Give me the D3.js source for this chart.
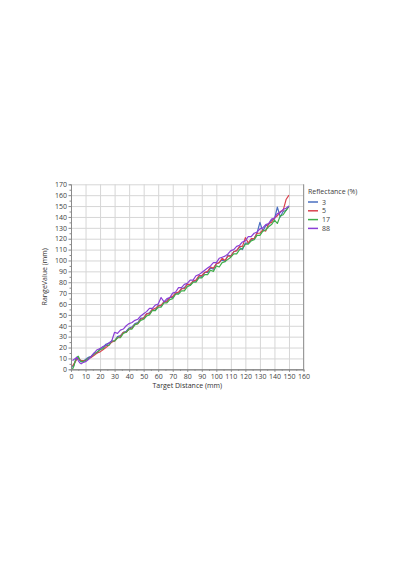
<!DOCTYPE html>
<html lang="en">
	<head>
		<meta charset="utf-8">
		<title>RangeValue vs Target Distance</title>
		<script type="text/javascript" src="https://cdn.jsdelivr.net/npm/d3@7"></script>
		<style type="text/css">
			body { margin: 0; background: #fff; }
			text { font-family: "Open Sans", sans-serif; }
			.grid line { stroke: #d6d6d6; stroke-width: 1; }
			.grid path { display: none; }
			.axis path, .axis line { stroke: #8a8a8a; }
			.axis text { fill: #404040; font-size: 7px; }
		</style>
	</head>
	<body>
		<script type="text/javascript">

			//Target distances (mm)
			var xs = [1, 2, 3, 4, 5, 6, 7, 8,
				10, 12, 14, 16, 18, 20, 22, 24, 26, 28,
				30, 32, 34, 36, 38, 40, 42, 44, 46, 48,
				50, 52, 54, 56, 58, 60, 62, 64, 66, 68,
				70, 72, 74, 76, 78, 80, 82, 84, 86, 88,
				90, 92, 94, 96, 98, 100, 102, 104, 106, 108,
				110, 112, 114, 116, 118, 120, 122, 124, 126, 128,
				130, 132, 134, 136, 138, 140, 142, 144, 146, 148,
				150];

			//Measured range values per reflectance
			var r3 = [2, 4, 8, 10, 11, 8, 7, 7,
				9, 11, 12, 15, 15, 19, 20, 23, 24, 26,
				26, 30, 31, 34, 35, 38, 39, 42, 43, 47,
				47, 51, 52, 55, 54, 59, 58, 62, 63, 66,
				66, 70, 70, 74, 75, 78, 77, 81, 81, 85,
				85, 89, 89, 93, 92, 97, 98, 101, 99, 105,
				104, 108, 109, 112, 110, 116, 116, 119, 120, 125,
				135, 127, 132, 133, 137, 138, 149, 140, 145, 146,
				150];

			var r5 = [3, 5, 7, 9, 10, 9, 8, 8,
				8, 10, 11, 13, 15, 16, 18, 20, 22, 25,
				26, 29, 30, 34, 34, 37, 38, 41, 42, 46,
				47, 51, 51, 55, 56, 58, 59, 62, 62, 66,
				67, 70, 71, 74, 74, 78, 78, 81, 82, 86,
				86, 89, 90, 94, 93, 97, 98, 102, 100, 104,
				104, 108, 109, 113, 113, 121, 116, 120, 120, 125,
				125, 128, 127, 134, 135, 139, 141, 145, 146, 156,
				160];

			var r17 = [0, 3, 8, 11, 12, 9, 7, 7,
				8, 10, 12, 14, 16, 18, 19, 22, 22, 26,
				26, 29, 29, 33, 34, 37, 37, 41, 42, 45,
				46, 49, 50, 54, 54, 57, 57, 61, 61, 64,
				65, 69, 69, 72, 72, 76, 77, 80, 80, 84,
				84, 87, 87, 91, 90, 95, 94, 98, 99, 101,
				103, 106, 106, 110, 111, 115, 115, 118, 119, 123,
				123, 127, 128, 131, 133, 137, 134, 141, 142, 146,
				150];

			var r88 = [8, 9, 10, 11, 8, 6, 5, 6,
				7, 9, 12, 15, 18, 19, 21, 22, 24, 26,
				34, 33, 36, 37, 40, 42, 43, 45, 46, 49,
				51, 53, 56, 56, 59, 60, 66, 62, 65, 66,
				70, 71, 75, 75, 78, 79, 82, 82, 86, 87,
				89, 91, 93, 95, 98, 98, 102, 103, 104, 106,
				109, 110, 113, 114, 117, 118, 122, 122, 125, 126,
				129, 130, 133, 134, 138, 139, 143, 144, 147, 148,
				150];

			var seriesNames = ["3", "5", "17", "88"];
			var seriesValues = [r3, r5, r17, r88];
			var colors = ["#4a6fc0", "#d9424e", "#3fae4a", "#8b3fd6"];

			var xTicks = d3.range(0, 161, 10);
			var yTicks = d3.range(0, 171, 10);

			//Width and height
			var w = 400;
			var h = 570;
			var plotLeft = 71, plotRight = 303.5, plotTop = 184.3, plotBottom = 369.3;

			var xScale = d3.scaleLinear().domain([0, 160]).range([plotLeft, plotRight]);
			var yScale = d3.scaleLinear().domain([0, 170]).range([plotBottom, plotTop]);

			var svg = d3.select("body")
						.append("svg")
						.attr("width", w)
						.attr("height", h);

			//Grid lines
			svg.append("g")
				.attr("class", "grid")
				.attr("transform", "translate(0," + plotBottom + ")")
				.call(d3.axisBottom(xScale).tickValues(xTicks).tickSize(-(plotBottom - plotTop)).tickFormat(""));

			svg.append("g")
				.attr("class", "grid")
				.attr("transform", "translate(" + plotLeft + ",0)")
				.call(d3.axisLeft(yScale).tickValues(yTicks).tickSize(-(plotRight - plotLeft)).tickFormat(""));

			//Right border
			svg.append("line")
				.attr("x1", plotRight).attr("x2", plotRight)
				.attr("y1", plotTop).attr("y2", plotBottom)
				.attr("stroke", "#9a9a9a");

			//Lines
			var line = d3.line()
				.x(function(d) { return xScale(d[0]); })
				.y(function(d) { return yScale(d[1]); });

			seriesValues.forEach(function(vals, i) {
				var pts = xs.map(function(x, j) { return [x, vals[j]]; });
				svg.append("path")
					.datum(pts)
					.attr("fill", "none")
					.attr("stroke", colors[i])
					.attr("stroke-width", 1.2)
					.attr("stroke-linejoin", "round")
					.attr("d", line);
			});

			//Minor ticks
			svg.append("g")
				.attr("class", "axis")
				.attr("transform", "translate(0," + plotBottom + ")")
				.call(d3.axisBottom(xScale).tickValues(d3.range(5, 160, 10)).tickSize(1.5).tickFormat(""));

			svg.append("g")
				.attr("class", "axis")
				.attr("transform", "translate(" + plotLeft + ",0)")
				.call(d3.axisLeft(yScale).tickValues(d3.range(5, 170, 10)).tickSize(1.5).tickFormat(""));

			//X axis
			svg.append("g")
				.attr("class", "axis")
				.attr("transform", "translate(0," + plotBottom + ")")
				.call(d3.axisBottom(xScale).tickValues(xTicks).tickSize(2.5).tickPadding(2).tickSizeOuter(0));

			//Y axis
			svg.append("g")
				.attr("class", "axis")
				.attr("transform", "translate(" + plotLeft + ",0)")
				.call(d3.axisLeft(yScale).tickValues(yTicks).tickSize(2.5).tickPadding(1.5).tickSizeOuter(0));

			//Axis titles
			svg.append("text")
				.attr("x", (plotLeft + plotRight) / 2)
				.attr("y", 388)
				.attr("text-anchor", "middle")
				.attr("font-size", "7px")
				.attr("fill", "#303030")
				.text("Target Distance (mm)");

			svg.append("text")
				.attr("transform", "translate(47," + ((plotTop + plotBottom) / 2) + ") rotate(-90)")
				.attr("text-anchor", "middle")
				.attr("font-size", "7px")
				.attr("fill", "#303030")
				.text("RangeValue (mm)");

			//Legend
			var legend = svg.append("g").attr("transform", "translate(308,0)");

			legend.append("text")
				.attr("x", 0)
				.attr("y", 194)
				.attr("font-size", "7px")
				.attr("fill", "#404040")
				.text("Reflectance (%)");

			seriesNames.forEach(function(name, i) {
				var y = 202 + i * 8.8;
				legend.append("line")
					.attr("x1", 0).attr("x2", 10)
					.attr("y1", y).attr("y2", y)
					.attr("stroke", colors[i])
					.attr("stroke-width", 1.5);
				legend.append("text")
					.attr("x", 14)
					.attr("y", y + 2.5)
					.attr("font-size", "7px")
					.attr("fill", "#404040")
					.text(name);
			});

		</script>
	</body>
</html>
